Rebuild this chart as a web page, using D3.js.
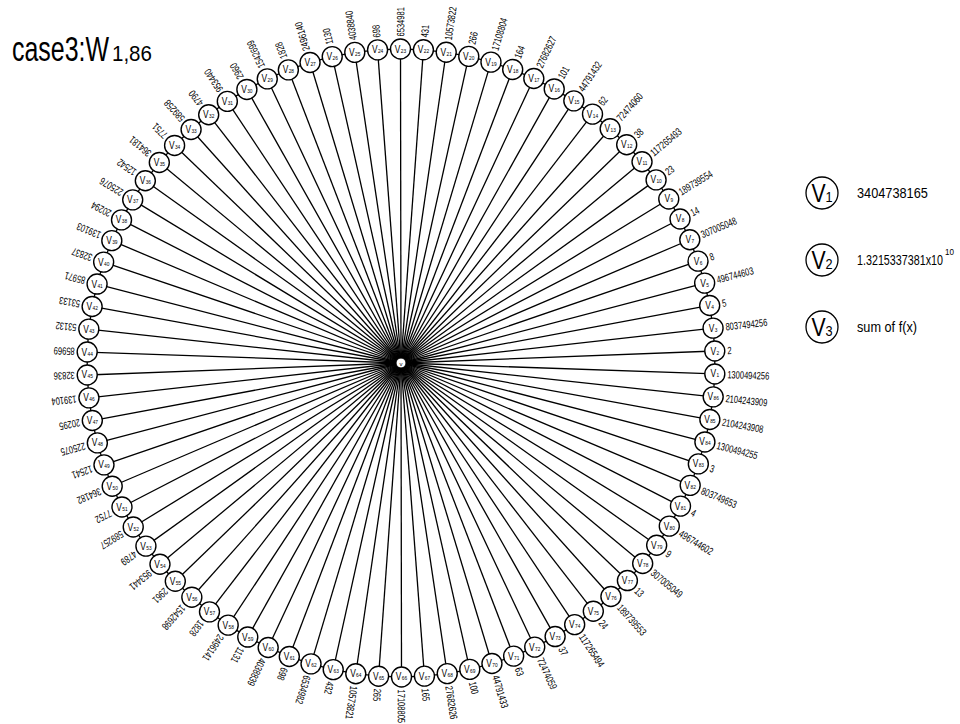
<!DOCTYPE html>
<html>
<head>
<meta charset="utf-8">
<script src="https://cdn.jsdelivr.net/npm/d3@7"></script>
<style>
  body { margin: 0; background: #fff; }
  text { font-family: "Liberation Sans", Arial, sans-serif; fill: #000; }
</style>
</head>
<body>
<svg id="chart"></svg>
<script>
// outer vertices v1..v86 and the value written next to each one
const vertexIds = d3.range(1, 87);
const vertexValues = [
  "1300494256", "2", "8037494256", "5", "496744603", "8", "307005048", "14", "189739554", "23",
  "117265493", "38", "72474060", "62", "44791432", "101", "27682627", "164", "17108804", "266",
  "10573822", "431", "6534981", "698", "4038840", "1130", "2496140", "1828", "1542699", "2960",
  "953440", "4790", "589258", "7751", "364181", "12542", "225076", "20294", "139103", "32837",
  "85971", "53133", "53132", "85969", "32836", "139104", "20295", "225075", "12541", "364182",
  "7752", "589257", "4789", "953441", "2961", "1542698", "1828", "2496141", "1131", "4038839",
  "698", "6534982", "432", "10573821", "265", "17108805", "165", "27682626", "100", "44791433",
  "63", "72474059", "37", "117265494", "24", "189739553", "13", "307005049", "9", "496744602",
  "4", "803749653", "3", "1300494255", "2104243908", "2104243909"
];
// legend on the right
const legendIds = ["1", "2", "3"];
const legendTexts = ["3404738165", "1.3215337381x10", "sum of f(x)"];
const legendSup = ["", "10", ""];
const legendWidths = [71, 86, 60];

const width = 960, height = 724;
const cx = 401, cy = 363, radius = 314, nodeR = 10;
const startAngle = 2 * Math.PI / 180;

const svg = d3.select("#chart").attr("width", width).attr("height", height);

// squeeze a text horizontally so it is w pixels wide, starting at x
function fit(sel, x, y, w) {
  sel.each(function () {
    const k = w / this.getComputedTextLength();
    d3.select(this).attr("transform", `translate(${x},${y}) scale(${k},1)`);
  });
}

// title
svg.append("text").attr("font-size", 36).text("case3:W").call(fit, 12, 61, 97);
svg.append("text").attr("font-size", 22).text("1,86").call(fit, 112, 61, 40);

const angle = d3.scaleLinear()
  .domain([0, vertexIds.length])
  .range([startAngle, startAngle - 2 * Math.PI]);

const nodes = vertexIds.map((id, i) => {
  const a = angle(i);
  return { id, value: vertexValues[i], a, x: cx + radius * Math.cos(a), y: cy + radius * Math.sin(a) };
});

const g = svg.append("g");

// spokes from the hub
g.selectAll("line.spoke").data(nodes).join("line")
  .attr("class", "spoke")
  .attr("x1", cx).attr("y1", cy)
  .attr("x2", d => d.x).attr("y2", d => d.y)
  .attr("stroke", "#000").attr("stroke-width", 1.3);

// rim
g.selectAll("line.rim").data(nodes).join("line")
  .attr("class", "rim")
  .attr("x1", d => d.x).attr("y1", d => d.y)
  .attr("x2", (d, i) => nodes[(i + 1) % nodes.length].x)
  .attr("y2", (d, i) => nodes[(i + 1) % nodes.length].y)
  .attr("stroke", "#000").attr("stroke-width", 1.3);

// hub
g.append("circle").attr("cx", cx).attr("cy", cy).attr("r", 5)
  .attr("fill", "#fff").attr("stroke", "#000").attr("stroke-width", 1);
g.append("text").attr("x", cx).attr("y", cy + 2.5).attr("text-anchor", "middle")
  .attr("font-size", 6).text("v");

const node = g.selectAll("g.node").data(nodes).join("g")
  .attr("class", "node")
  .attr("transform", d => `translate(${d.x},${d.y})`);

node.append("circle").attr("r", nodeR)
  .attr("fill", "#fff").attr("stroke", "#000").attr("stroke-width", 1.4);

const inner = node.append("text").attr("text-anchor", "middle")
  .attr("transform", "translate(0,3.5) scale(0.8,1)");
inner.append("tspan").attr("font-size", 10.5).text("V");
inner.append("tspan").attr("font-size", 6).attr("dx", 0.5).text(d => d.id);

// values, written radially outside each vertex
node.append("text")
  .attr("transform", d => `rotate(${d.a * 180 / Math.PI}) translate(${nodeR + 2.5},0) scale(0.72,1)`)
  .attr("dy", "0.36em")
  .attr("font-size", 10.5)
  .text(d => d.value);

// legend
const legend = svg.append("g").selectAll("g").data(legendIds).join("g")
  .attr("transform", (d, i) => `translate(822,${193 + i * 67})`);

legend.append("circle").attr("r", 16)
  .attr("fill", "#fff").attr("stroke", "#000").attr("stroke-width", 1.3);

const lt = legend.append("text").attr("text-anchor", "middle").attr("y", 9)
  .attr("transform", "scale(0.85,1)");
lt.append("tspan").attr("font-size", 25).text("V");
lt.append("tspan").attr("font-size", 15).text(d => d);

legend.append("text").attr("font-size", 14)
  .text((d, i) => legendTexts[i])
  .each(function (d, i) { d3.select(this).call(fit, 35, 5, legendWidths[i]); });
legend.filter((d, i) => legendSup[i]).append("text")
  .attr("font-size", 9)
  .text(d => legendSup[legendIds.indexOf(d)])
  .call(fit, 37 + legendWidths[1], -5, 9);
</script>
</body>
</html>
